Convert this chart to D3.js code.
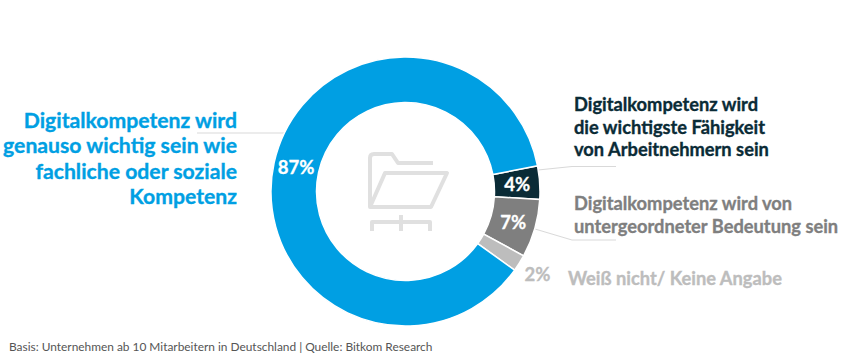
<!DOCTYPE html>
<html>
<head>
<meta charset="utf-8">
<script src="https://cdn.jsdelivr.net/npm/d3@7"></script>
<style>
	html, body { margin: 0; padding: 0; background: #fff; }
	svg { display: block; }
	text { font-family: Lato, "Open Sans", sans-serif; }
	.seg-label { font-weight: 700; font-size: 18.5px; text-anchor: middle; stroke-width: .3px; }
	.cat-label { font-weight: 700; stroke-width: .35px; }
</style>
</head>
<body>
<div id="chart"></div>
<script>
// Data
var categories = ["wichtigste", "untergeordnet", "weissNicht", "genauso"];
var values = [4, 7, 2, 87];
var colors = ["#0a2b36", "#7f7f7f", "#bdbdbd", "#009fe3"];
var valueColors = ["#fff", "#fff", "#bdbdbd", "#fff"];

var labelLines = [
	["Digitalkompetenz wird", "die wichtigste Fähigkeit", "von Arbeitnehmern sein"],
	["Digitalkompetenz wird von", "untergeordneter Bedeutung sein"],
	["Weiß nicht/ Keine Angabe"],
	["Digitalkompetenz wird", "genauso wichtig sein wie", "fachliche oder soziale", "Kompetenz"]
];
var footer = "Basis: Unternehmen ab 10 Mitarbeitern in Deutschland | Quelle: Bitkom Research";

var width = 843, height = 358;
var cx = 405.5, cy = 191.5, outer = 134.5, inner = 89;

var svg = d3.select("#chart").append("svg")
	.attr("width", width)
	.attr("height", height);

// Leader lines sit behind the ring
var leaders = [
	[[538, 170], [572, 166.5], [616, 166.5]],
	[[535, 229], [572, 240], [616, 240]],
	[[197, 133], [285, 133]]
];
svg.selectAll(".leader")
	.data(leaders)
	.enter().append("path")
	.attr("class", "leader")
	.attr("d", d3.line())
	.attr("fill", "none")
	.attr("stroke", "#d9d9d9")
	.attr("stroke-width", 1);

// Ring starts at the top edge of the 4% slice
var startAngle = 79 * Math.PI / 180;
var pie = d3.pie().sort(null).startAngle(startAngle).endAngle(startAngle + 2 * Math.PI);
var arc = d3.arc().innerRadius(inner).outerRadius(outer);
var labelArc = d3.arc().innerRadius(112).outerRadius(112);
var outsideArc = d3.arc().innerRadius(156).outerRadius(156);

var ring = svg.append("g").attr("transform", "translate(" + cx + "," + cy + ")");
var slices = pie(values);

ring.selectAll(".slice")
	.data(slices)
	.enter().append("path")
	.attr("class", "slice")
	.attr("d", arc)
	.attr("fill", function (d, i) { return colors[i]; })
	.attr("stroke", "#fff")
	.attr("stroke-width", 1.5);

ring.selectAll(".seg-label")
	.data(slices)
	.enter().append("text")
	.attr("class", "seg-label")
	.attr("transform", function (d) {
		var a = d.value < 3 ? outsideArc : labelArc;
		return "translate(" + a.centroid(d) + ")";
	})
	.attr("dy", ".35em")
	.attr("fill", function (d, i) { return valueColors[i]; })
	.attr("stroke", function (d, i) { return valueColors[i]; })
	.text(function (d) { return d.value + "%"; });

// Category labels
var labelPos = [
	{ x: 574, y: 111, step: 22.5, size: 18.3, anchor: "start" },
	{ x: 574, y: 210, step: 23, size: 18.3, anchor: "start" },
	{ x: 568, y: 285, step: 0, size: 18.3, anchor: "start" },
	{ x: 237, y: 127.5, step: 25.5, size: 21.2, anchor: "end" }
];
labelLines.forEach(function (lines, i) {
	var p = labelPos[i];
	svg.append("text")
		.attr("class", "cat-label")
		.attr("text-anchor", p.anchor)
		.attr("font-size", p.size)
		.attr("fill", colors[i])
		.attr("stroke", colors[i])
		.selectAll("tspan")
		.data(lines)
		.enter().append("tspan")
		.attr("x", p.x)
		.attr("y", function (d, j) { return p.y + j * p.step; })
		.text(function (d) { return d; });
});

// Folder icon in the middle
var icon = svg.append("g")
	.attr("fill", "none")
	.attr("stroke", "#e0e0e0")
	.attr("stroke-width", 4)
	.attr("stroke-linejoin", "round");
icon.append("path").attr("d", "M433,163 L398,163 L392,154 L374,154 Q370,154 370,158 L370,207 L431,207 L447,173 L385,173 L370,207");
icon.append("path").attr("d", "M372,231 L372,222 L430,222 L430,231 M401,215 L401,231");

svg.append("text")
	.attr("x", 9)
	.attr("y", 351)
	.attr("font-size", 11.9)
	.attr("fill", "#555")
	.text(footer);
</script>
</body>
</html>
